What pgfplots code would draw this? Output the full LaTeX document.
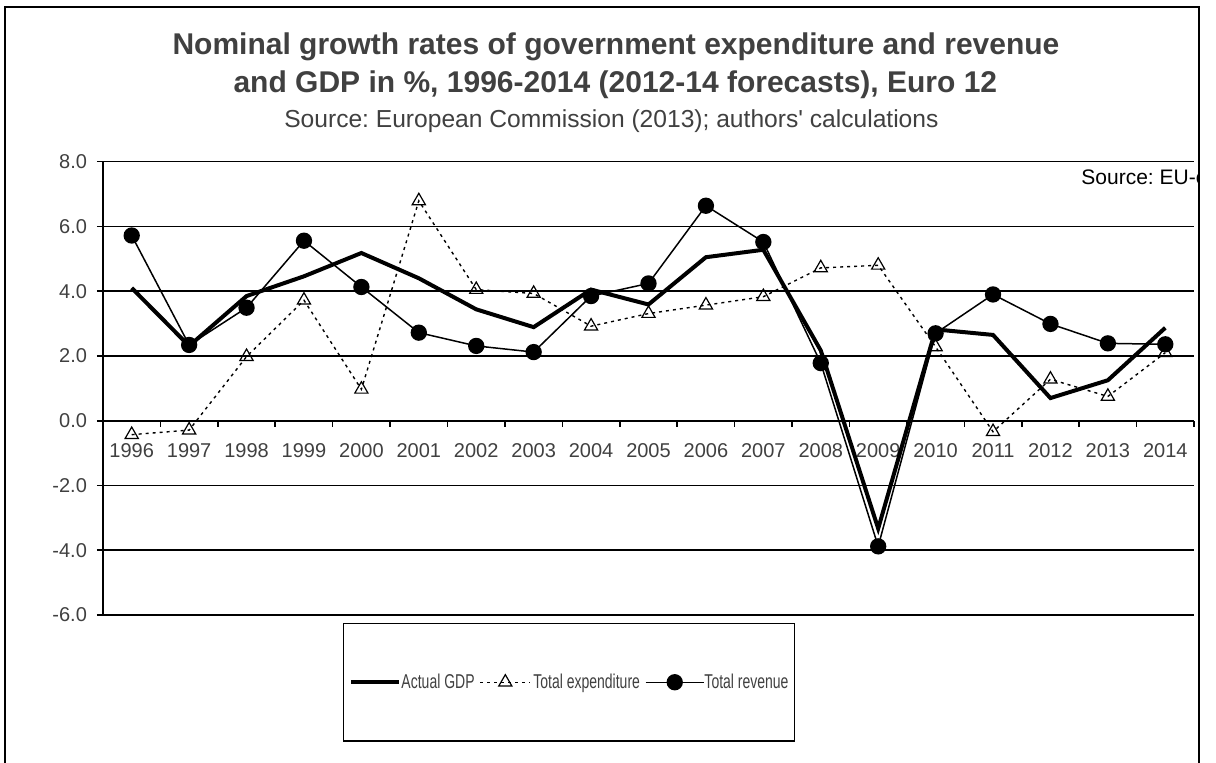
\documentclass[border=0pt]{standalone}
\usepackage{pgfplots}
\pgfplotsset{compat=1.18}
\usepackage{pgfplotstable}
\usepackage{fontspec}
\setmainfont{Liberation Sans}
\frenchspacing
\definecolor{txt}{RGB}{64,64,64}

\pgfplotstableread{
x gdp exp rev
0 4.10 -0.43 5.72
1 2.31 -0.29 2.34
2 3.85 1.98 3.49
3 4.46 3.72 5.56
4 5.18 0.97 4.13
5 4.40 6.79 2.72
6 3.44 4.05 2.31
7 2.89 3.93 2.12
8 4.05 2.92 3.85
9 3.59 3.31 4.24
10 5.05 3.57 6.64
11 5.28 3.83 5.52
12 2.17 4.72 1.78
13 -3.33 4.80 -3.88
14 2.82 2.28 2.70
15 2.65 -0.34 3.90
16 0.70 1.28 2.99
17 1.25 0.75 2.39
18 2.87 2.10 2.36
}\data

\pgfplotsset{
  legA/.style={legend image code/.code={\draw[black, line width=2pt] (0pt,0pt) -- (24pt,0pt);}},
  legB/.style={legend image code/.code={%
    \draw[black, line width=0.7pt, dash pattern=on 1.5pt off 2pt] (0pt,0pt) -- (25pt,0pt);
    \draw[black, line width=0.6pt, fill=white] plot[mark=triangle, mark size=3.8pt] coordinates {(12.5pt,0pt)};}},
  legC/.style={legend image code/.code={%
    \draw[black, line width=0.75pt] (0pt,0pt) -- (29pt,0pt);
    \fill[black] plot[mark=*, mark size=3.7pt] coordinates {(14.5pt,0pt)};}},
}

\begin{document}
\begin{tikzpicture}
\useasboundingbox (0,0) rectangle (608pt,381pt);
\draw[line width=1pt] (2.5pt,-2pt) -- (2.5pt,377.5pt) -- (599.5pt,377.5pt) -- (599.5pt,-2pt);
\node[anchor=base, font=\bfseries\fontsize{15}{18}\selectfont, text=txt, inner sep=0] at (308pt,353.5pt) {Nominal growth rates of government expenditure and revenue};
\node[anchor=base, font=\bfseries\fontsize{15}{18}\selectfont, text=txt, inner sep=0] at (307.7pt,334.5pt) {and GDP in \%, 1996-2014 (2012-14 forecasts), Euro 12};
\node[anchor=base, font=\fontsize{12.3}{14}\selectfont, text=txt, inner sep=0] at (305.7pt,317pt) {Source: European Commission (2013); authors\textquotesingle\ calculations};
\begin{scope}
\clip (2.5pt,0pt) rectangle (599.5pt,381pt);
\node[anchor=base west, font=\fontsize{10.5}{12}\selectfont, inner sep=0] at (540.5pt,288.5pt) {Source: EU-commission};
\end{scope}
\begin{axis}[
  at={(51.5pt,73.5pt)}, anchor=south west,
  width=545.5pt, height=226.65pt, scale only axis,
  xmin=-0.5, xmax=18.5, ymin=-6, ymax=8,
  axis x line=middle, axis y line=left,
  axis line style={-, line width=0.8pt, black},
  xtick={0,1,...,18},
  xticklabels={1996,1997,1998,1999,2000,2001,2002,2003,2004,2005,2006,2007,2008,2009,2010,2011,2012,2013,2014},
  minor xtick={-0.5,0.5,...,18.5},
  major x tick style={draw=none},
  minor x tick style={black, line width=0.8pt},
  tick align=outside, major tick length=3pt, minor tick length=3pt,
  ytick={-6,-4,...,8},
  yticklabels={-6.0,-4.0,-2.0,0.0,2.0,4.0,6.0,8.0},
  ytick style={black, line width=0.8pt},
  ymajorgrids, grid style={black, line width=0.8pt},
  tick label style={text=txt, font=\fontsize{10}{12}\selectfont},
  xticklabel shift=5pt,
  yticklabel shift=1.5pt,
  clip=false,
  legend columns=3,
  legend cell align=left,
  legend style={at={(0.2197,-0.017)}, anchor=north west, draw=black, line width=0.8pt,
    inner xsep=3pt, inner ysep=23pt, text=txt, font=\fontsize{10}{12}\selectfont,
    nodes={inner xsep=0pt},
    /tikz/every even column/.append style={column sep=2.5pt}},
]
\addplot[black, line width=2pt, no marks, legA]
  table[x=x, y=gdp] {\data};
\addlegendentry{\scalebox{0.7}[1]{Actual GDP}}
\addplot[black, line width=0.7pt, dash pattern=on 1.5pt off 2pt, mark=triangle, mark size=3.8pt,
  mark options={solid, fill=white, line width=0.6pt}, legB]
  table[x=x, y=exp] {\data};
\addlegendentry{\scalebox{0.7}[1]{\,Total expenditure}}
\addplot[black, line width=0.75pt, mark=*, mark size=3.7pt,
  mark options={solid, fill=black}, legC]
  table[x=x, y=rev] {\data};
\addlegendentry{\scalebox{0.7}[1]{Total revenue}}
\end{axis}
\end{tikzpicture}
\end{document}
